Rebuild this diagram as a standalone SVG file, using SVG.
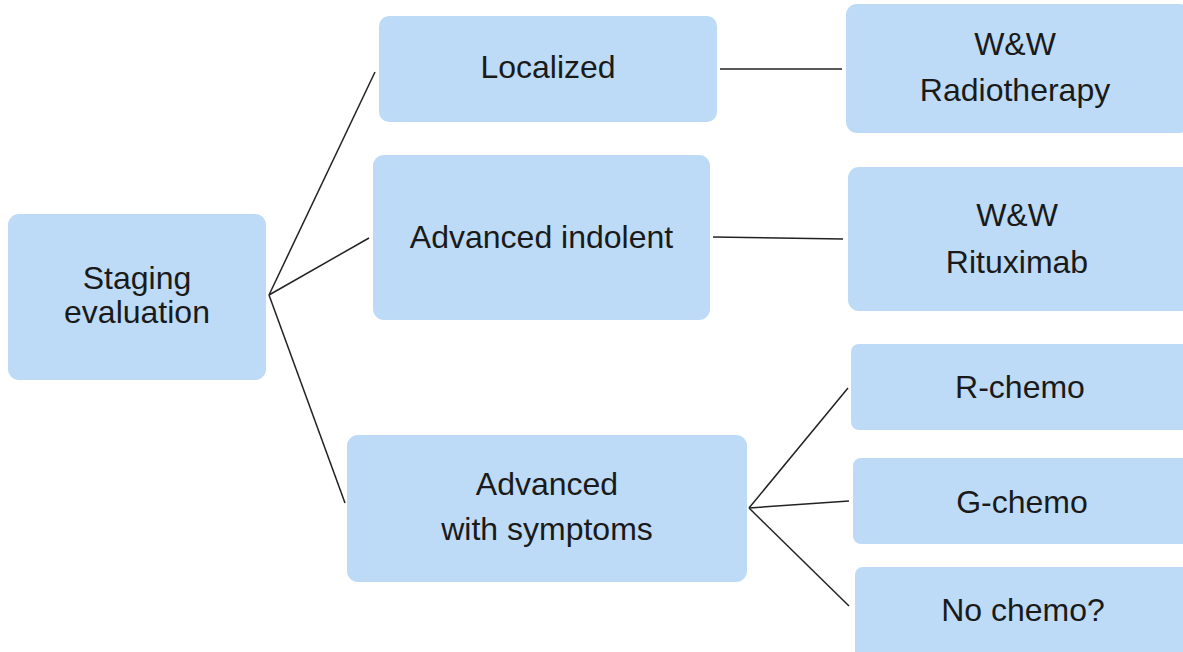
<svg xmlns="http://www.w3.org/2000/svg" width="1183" height="652" viewBox="0 0 1183 652">
<style>
.box{fill:#bddbf6;}
.t{font-family:"Liberation Sans",Arial,sans-serif;font-size:32px;fill:#1a1a1a;text-anchor:middle;}
.c{stroke:#222;stroke-width:1.5;fill:none;}
</style>
<rect width="1183" height="652" fill="#ffffff"/>
<g id="connectors">
<line class="c" x1="269" y1="295" x2="375" y2="72"/>
<line class="c" x1="269" y1="295" x2="369" y2="238"/>
<line class="c" x1="269" y1="295" x2="345" y2="503"/>
<line class="c" x1="720" y1="69" x2="842" y2="69"/>
<line class="c" x1="713" y1="237" x2="843" y2="239"/>
<line class="c" x1="749" y1="508" x2="848" y2="388"/>
<line class="c" x1="749" y1="508" x2="849" y2="501"/>
<line class="c" x1="749" y1="508" x2="849" y2="606"/>
</g>
<g id="staging">
<rect class="box" x="8" y="214" width="258" height="166" rx="11"/>
<text class="t" x="137" y="289">Staging</text>
<text class="t" x="137" y="323">evaluation</text>
</g>
<g id="localized">
<rect class="box" x="379" y="16" width="338" height="106" rx="10"/>
<text class="t" x="548" y="78">Localized</text>
</g>
<g id="indolent">
<rect class="box" x="373" y="155" width="337" height="165" rx="11"/>
<text class="t" x="541.5" y="248">Advanced indolent</text>
</g>
<g id="symptoms">
<rect class="box" x="347" y="435" width="400" height="147" rx="11"/>
<text class="t" x="547" y="495">Advanced</text>
<text class="t" x="547" y="540">with symptoms</text>
</g>
<g id="ww-radio">
<rect class="box" x="846" y="4" width="345" height="129" rx="11"/>
<text class="t" x="1015" y="55">W&amp;W</text>
<text class="t" x="1015" y="101">Radiotherapy</text>
</g>
<g id="ww-ritux">
<rect class="box" x="848" y="167" width="345" height="144" rx="11"/>
<text class="t" x="1017" y="226">W&amp;W</text>
<text class="t" x="1017" y="273">Rituximab</text>
</g>
<g id="r-chemo">
<rect class="box" x="851" y="344" width="342" height="86" rx="8"/>
<text class="t" x="1020" y="398">R-chemo</text>
</g>
<g id="g-chemo">
<rect class="box" x="853" y="458" width="340" height="86" rx="8"/>
<text class="t" x="1022" y="513">G-chemo</text>
</g>
<g id="no-chemo">
<rect class="box" x="855" y="567" width="338" height="100" rx="8"/>
<text class="t" x="1023" y="621">No chemo?</text>
</g>
</svg>
